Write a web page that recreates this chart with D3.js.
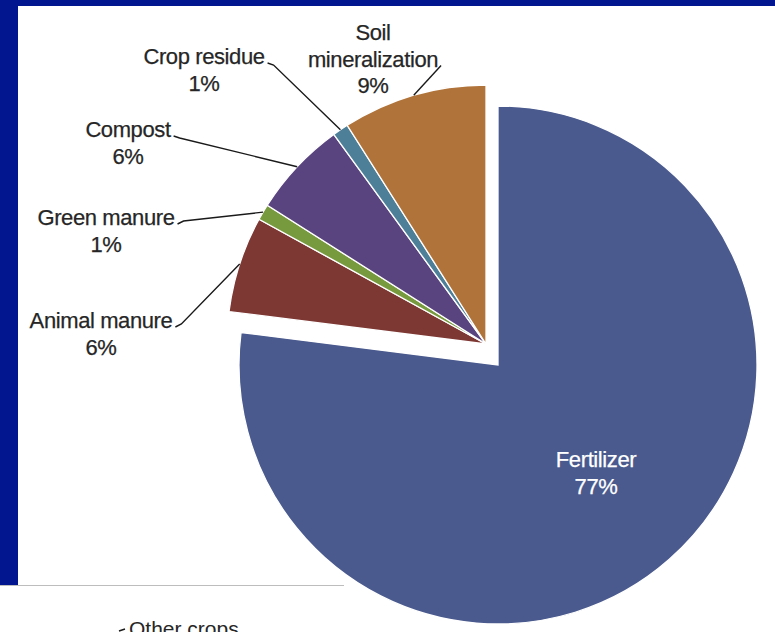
<!DOCTYPE html>
<html>
<head>
<meta charset="utf-8">
<script src="https://cdn.jsdelivr.net/npm/d3@7/dist/d3.min.js"></script>
<style>
  html, body { margin: 0; padding: 0; background: #02168f; }
  svg { display: block; }
  text { font-family: "Liberation Sans", Arial, sans-serif; }
</style>
</head>
<body>
<svg id="chart" width="775" height="632"></svg>
<script>
// Sources of nitrogen input, share of total (%)
const categories = ["Fertilizer", "Animal manure", "Green manure", "Compost", "Crop residue", "Soil mineralization"];
const values = [77, 6, 1, 6, 1, 9];
const colors = ["#4a5a8e", "#7e3834", "#789a3e", "#5a4480", "#4d7f99", "#b0733a"];
// Label text lines (the percent line is appended from the value)
const labelLines = [["Fertilizer"], ["Animal manure"], ["Green manure"], ["Compost"], ["Crop residue"], ["Soil", "mineralization"]];

const W = 775, H = 632;
const svg = d3.select("#chart");

// slide background and white chart panel
svg.append("rect").attr("x", 0).attr("y", 0).attr("width", W).attr("height", H).attr("fill", "#02168f");
svg.append("rect").attr("x", 18).attr("y", 6).attr("width", W - 18).attr("height", H - 6).attr("fill", "#ffffff");

// pie geometry
const cx = 486, cy = 344, R = 259;
const explode = [12, 21];          // offset of the pulled-out Fertilizer slice
const pie = d3.pie().sort(null).value(d => d).startAngle(0).endAngle(2 * Math.PI);
const arcs = pie(values);
const arc = d3.arc().innerRadius(0).outerRadius(R);
const fmt = d3.format(".0f");

const g = svg.append("g").attr("transform", `translate(${cx},${cy})`);

g.selectAll("path.slice")
  .data(arcs)
  .join("path")
  .attr("class", "slice")
  .attr("d", arc)
  .attr("fill", (d, i) => colors[i])
  .attr("stroke", "#ffffff")
  .attr("stroke-width", 1.3)
  .attr("transform", (d, i) => i === 0 ? `translate(${explode[0]},${explode[1]})` : null);

// label placement: centre x and first baseline (panel coords)
const labelPos = {
  "Fertilizer": { x: 596, y: 467 },
  "Animal manure": { x: 101, y: 328 },
  "Green manure": { x: 106, y: 225 },
  "Compost": { x: 128, y: 137 },
  "Crop residue": { x: 204, y: 64 },
  "Soil mineralization": { x: 373, y: 40 }
};
const lineH = 26.5;
const fontSize = 22;
const spacing = -0.4;

// point on the rim at a slice's mid angle
function rimPoint(d, r) {
  const a = (d.startAngle + d.endAngle) / 2;
  return [Math.sin(a) * r, -Math.cos(a) * r];
}

// measure helper for label widths
const measure = svg.append("text").attr("font-size", fontSize).attr("letter-spacing", spacing).attr("opacity", 0);
function textWidth(s) { measure.text(s); return measure.node().getComputedTextLength(); }

arcs.forEach((d, i) => {
  const name = categories[i];
  const lines = labelLines[i].concat([fmt(values[i]) + "%"]);
  const p = labelPos[name];
  const inside = i === 0;
  const t = svg.append("text")
    .attr("text-anchor", "middle")
    .attr("font-size", fontSize)
    .attr("fill", inside ? "#ffffff" : "#262626")
    .attr("stroke", inside ? "#ffffff" : "#262626")
    .attr("stroke-width", 0.25)
    .attr("letter-spacing", spacing);
  lines.forEach((s, k) => {
    t.append("tspan").attr("x", p.x).attr("y", p.y + k * lineH).text(s);
  });
  if (inside) return;

  // leader line: from the end of the last name line to the slice rim
  const nameLine = labelLines[i][labelLines[i].length - 1];
  const ly = p.y + (labelLines[i].length - 1) * lineH;
  const half = textWidth(nameLine) / 2;
  const [rx, ry] = rimPoint(d, R);
  const sx = p.x + half + 3, sy = ly;
  const ex = cx + rx, ey = cy + ry;
  const pts = ex > sx + 20
    ? [[sx, sy - 1], [sx + 6, sy - 1 + (ey > sy ? 2 : -3)], [ex, ey]]
    : [[sx, sy - 1], [ex, ey]];
  svg.append("path")
    .attr("d", d3.line()(pts))
    .attr("fill", "none")
    .attr("stroke", "#1a1a1a")
    .attr("stroke-width", 1.4);
});
measure.remove();

// neighbouring chart panel peeking in at the bottom left
const inset = svg.append("g");
inset.append("rect").attr("x", 0).attr("y", 585).attr("width", 344).attr("height", H - 585).attr("fill", "#ffffff");
inset.append("line").attr("x1", 0).attr("x2", 344).attr("y1", 585.5).attr("y2", 585.5)
  .attr("stroke", "#bdbdbd").attr("stroke-width", 1);
inset.append("text").attr("x", 129).attr("y", 636).attr("font-size", 21).attr("fill", "#262626").text("Other crops");
inset.append("line").attr("x1", 119).attr("x2", 125).attr("y1", 631).attr("y2", 629)
  .attr("stroke", "#1a1a1a").attr("stroke-width", 1.4);
</script>
</body>
</html>
